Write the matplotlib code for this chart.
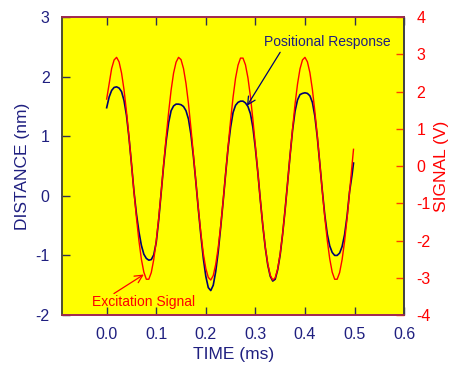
import numpy as np
import matplotlib
matplotlib.use('Agg')
import matplotlib.pyplot as plt

plt.rcParams['font.family'] = ['Liberation Sans', 'DejaVu Sans']
plt.rcParams['axes.unicode_minus'] = False

# sample times (ms), read every 0.005 ms, last point where the traces stop
time_ms = np.append(np.arange(0, 0.4951, 0.005), 0.498)

# excitation signal (V), right axis
signal_v = [
    1.80, 2.21, 2.62, 2.85, 2.92, 2.80, 2.50, 2.05, 1.46, 0.79, 0.06,
    -0.68, -1.38, -2.00, -2.50, -2.85, -3.04, -3.04, -2.86, -2.51, -2.01, -1.39, -0.69,
    0.05, 0.78, 1.45, 2.04, 2.50, 2.79, 2.92, 2.86, 2.62, 2.22, 1.68, 1.02, 0.31,
    -0.43, -1.15, -1.80, -2.35, -2.75, -2.99, -3.06, -2.94, -2.64, -2.19, -1.61, -0.93, -0.20,
    0.53, 1.23, 1.85, 2.36, 2.71, 2.90, 2.90, 2.72, 2.37, 1.87, 1.25, 0.55,
    -0.18, -0.91, -1.59, -2.18, -2.63, -2.93, -3.06, -3.00, -2.76, -2.36, -1.82, -1.17, -0.45,
    0.29, 1.00, 1.66, 2.20, 2.61, 2.85, 2.92, 2.80, 2.51, 2.06, 1.47, 0.80, 0.07,
    -0.67, -1.37, -1.99, -2.49, -2.85, -3.04, -3.04, -2.86, -2.51, -2.02, -1.40, -0.70,
    0.03, 0.45,
]

# positional response (nm), left axis
distance_nm = [
    1.48, 1.66, 1.77, 1.82, 1.83, 1.81, 1.75, 1.60, 1.35, 0.98, 0.54,
    0.08, -0.30, -0.60, -0.83, -0.98, -1.05, -1.08, -1.07, -0.99, -0.78, -0.40, 0.06,
    0.52, 0.92, 1.23, 1.43, 1.51, 1.54, 1.54, 1.53, 1.50, 1.43, 1.29, 1.03, 0.66,
    0.23, -0.23, -0.66, -1.05, -1.35, -1.54, -1.59, -1.50, -1.27, -0.94, -0.53, -0.09, 0.37,
    0.81, 1.15, 1.40, 1.52, 1.57, 1.59, 1.59, 1.56, 1.50, 1.38, 1.15, 0.80,
    0.39, -0.07, -0.50, -0.87, -1.16, -1.35, -1.43, -1.40, -1.24, -0.99, -0.64, -0.23, 0.22,
    0.68, 1.10, 1.42, 1.61, 1.70, 1.72, 1.73, 1.72, 1.68, 1.57, 1.34, 0.98, 0.54,
    0.09, -0.32, -0.64, -0.84, -0.95, -1.00, -1.00, -0.96, -0.85, -0.65, -0.34, 0.07,
    0.35, 0.55,
]

x_ticks = [0.0, 0.1, 0.2, 0.3, 0.4, 0.5, 0.6]
x_tick_labels = ['0.0', '0.1', '0.2', '0.3', '0.4', '0.5', '0.6']
left_ticks = [-2, -1, 0, 1, 2, 3]
right_ticks = [-4, -3, -2, -1, 0, 1, 2, 3, 4]

navy = '#1f1f80'
line_navy = '#000070'
red = '#ff0000'

fig = plt.figure(figsize=(4.53, 3.65), dpi=100)
ax = fig.add_axes([0.137, 0.137, 0.755, 0.816])
ax.set_facecolor('#ffff00')
ax.plot(time_ms, distance_nm, color=line_navy, lw=1.2)
ax.set_xlim(-0.09, 0.6)
ax.set_ylim(-2, 3)
ax.set_xticks(x_ticks)
ax.set_xticklabels(x_tick_labels)
ax.set_yticks(left_ticks)
ax.set_yticklabels([str(v) for v in left_ticks])
ax.tick_params(axis='x', direction='in', length=6, width=1, color='#303050',
               labelcolor=navy, labelsize=11.5, pad=9, top=True)
ax.tick_params(axis='y', direction='in', length=6, width=1, color='#303050',
               labelcolor=navy, labelsize=11.5, pad=9)
ax.set_xlabel('TIME (ms)', color=navy, fontsize=12.5, labelpad=3)
ax.set_ylabel('DISTANCE (nm)', color=navy, fontsize=12.5, labelpad=4)

ax2 = ax.twinx()
ax2.plot(time_ms, signal_v, color=red, lw=1.0)
ax2.set_ylim(-4, 4)
ax2.set_yticks(right_ticks)
ax2.set_yticklabels([str(v) for v in right_ticks])
ax2.tick_params(axis='y', direction='in', length=6, width=1, color='#ff4000',
                labelcolor=red, labelsize=11.5, pad=9)
ax2.set_ylabel('SIGNAL (V)', color=red, fontsize=12.5, labelpad=2)

for a in (ax, ax2):
    a.spines['left'].set_color('#505030')
    a.spines['right'].set_color('#404040')
    a.spines['top'].set_color('#a02850')
    a.spines['bottom'].set_color('#a02850')
    for s in a.spines.values():
        s.set_linewidth(1.2)

# annotations, placed in left-axis data coordinates
ax2.annotate('', xy=(0.283, 1.51), xycoords=ax.transData,
             xytext=(0.350, 2.41), textcoords=ax.transData,
             arrowprops=dict(arrowstyle='->', color=line_navy, lw=0.9,
                             mutation_scale=14, shrinkA=0, shrinkB=0))
ax2.text(0.3165, 2.58, 'Positional Response', transform=ax.transData,
         color=navy, fontsize=10, ha='left', va='center')

ax2.annotate('', xy=(0.075, -1.32), xycoords=ax.transData,
             xytext=(0.0147, -1.64), textcoords=ax.transData,
             arrowprops=dict(arrowstyle='->', color=red, lw=0.9,
                             mutation_scale=14, shrinkA=0, shrinkB=0))
ax2.text(-0.0288, -1.79, 'Excitation Signal', transform=ax.transData,
         color=red, fontsize=10, ha='left', va='center')

fig.savefig('out.png', dpi=100)
